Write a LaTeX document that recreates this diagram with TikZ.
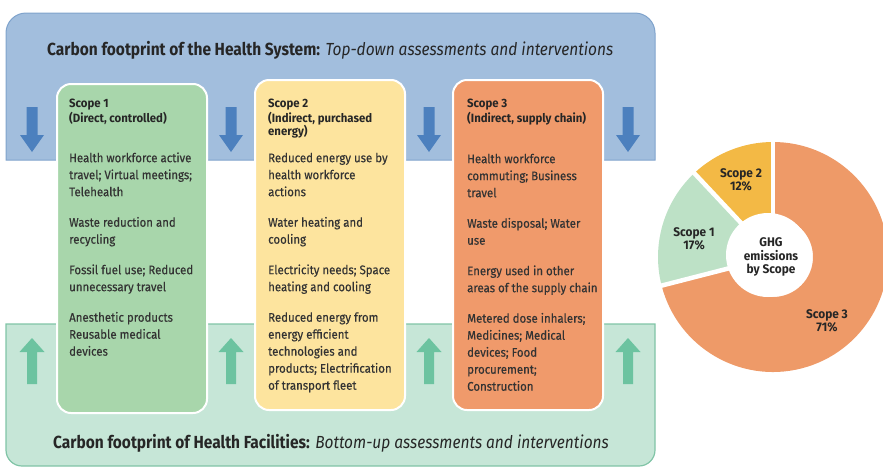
\documentclass[tikz,border=0pt]{standalone}
\usepackage{fontspec}
\setmainfont{Fira Sans}[FakeStretch=0.88]
\newfontfamily\bodyfont{Fira Sans}[FakeStretch=0.915, FakeBold=0.35]
\newfontfamily\headfont{Fira Sans}[FakeStretch=0.95]
\newfontfamily\titlefont{Fira Sans}[FakeStretch=0.885]
\definecolor{bluebg}{HTML}{A2BEDD}
\definecolor{blueedge}{HTML}{7FA3CC}
\definecolor{bluearrow}{HTML}{4C80BE}
\definecolor{greenbg}{HTML}{C6E6D7}
\definecolor{greenedge}{HTML}{80C4A6}
\definecolor{greenarrow}{HTML}{6CC3A0}
\definecolor{sone}{HTML}{A8D6AB}
\definecolor{stwo}{HTML}{FDE49E}
\definecolor{sthree}{HTML}{F09A6B}
\definecolor{pone}{HTML}{BDE1C6}
\definecolor{ptwo}{HTML}{F3B945}
\definecolor{pthree}{HTML}{EE9A68}
\definecolor{txt}{HTML}{262626}
\definecolor{bodytxt}{HTML}{333333}
\tikzset{
  scopebox/.style={draw=white, line width=2pt, rounded corners=14pt},
  headtext/.style={font=\headfont\bfseries\fontsize{12}{13}\selectfont, text=txt, align=left, inner sep=0pt, anchor=north west},
  bodytext/.style={font=\bodyfont\fontsize{12.5}{17}\selectfont, text=bodytxt, align=left, inner sep=0pt, anchor=north west},
  titletext/.style={font=\titlefont\fontsize{17.5}{20}\selectfont, text=txt, inner sep=0pt, anchor=base west},
  pielabel/.style={font=\headfont\bfseries\fontsize{12.5}{13.5}\selectfont, text=txt, align=center, inner sep=0pt},
  downarrow/.pic={\fill[bluearrow] (-5.5,-22.5) -- (5.5,-22.5) -- (5.5,5.5) -- (12,5.5) -- (0,22.5) -- (-12,5.5) -- (-5.5,5.5) -- cycle;},
  uparrow/.pic={\fill[greenarrow] (-5,23) -- (5,23) -- (5,-9) -- (12.5,-9) -- (0,-23) -- (-12.5,-9) -- (-5,-9) -- cycle;}
}
\begin{document}
\begin{tikzpicture}[x=1pt,y=-1pt]
\useasboundingbox (0,0) rectangle (883,469);
% top band
\path[fill=bluebg, draw=blueedge, line width=1pt] (6,160) [rounded corners=20pt] -- (6,13) -- (655,13) [sharp corners] -- (655,160) -- cycle;
% bottom band
\path[fill=greenbg, draw=greenedge, line width=1.2pt] (6,324) [rounded corners=16pt] -- (6,466) -- (655,466) [sharp corners] -- (655,324) -- cycle;
% arrows
\foreach \ax in {32,231,429,628} {
  \pic at (\ax,129.5) {downarrow};
  \pic at (\ax,361) {uparrow};
}
% scope boxes
\path[scopebox, fill=sone] (57,84) rectangle (207,413);
\path[scopebox, fill=stwo] (255,80) rectangle (405,410);
\path[scopebox, fill=sthree] (453,80) rectangle (603,410);
% titles
\node[titletext] (ttop) at (47,55) {\textbf{Carbon footprint of the Health System:} \textit{Top-down assessments and interventions}};
\node[titletext] (tbot) at (53,448) {\textbf{Carbon footprint of Health Facilities:} \textit{Bottom-up assessments and interventions}};
% scope 1
\node[headtext] (h1) at (69,97.9) {\strut Scope 1\\(Direct, controlled)};
\node[bodytext] (b1) at (69,150.1) {\strut Health workforce active\\travel; Virtual meetings;\\Telehealth\\[13.5pt]
Waste reduction and\\recycling\\[13.5pt]
Fossil fuel use; Reduced\\unnecessary travel\\[13.5pt]
Anesthetic products\\Reusable medical\\devices};
% scope 2
\node[headtext] (h2) at (268,97.9) {\strut Scope 2\\(Indirect, purchased\\energy)};
\node[bodytext] (b2) at (268,150.1) {\strut Reduced energy use by\\health workforce\\actions\\[13.5pt]
Water heating and\\cooling\\[13.5pt]
Electricity needs; Space\\heating and cooling\\[13.5pt]
Reduced energy from\\energy efficient\\technologies and\\products; Electrification\\of transport fleet};
% scope 3
\node[headtext] (h3) at (467,97.9) {\strut Scope 3\\(Indirect, supply chain)};
\node[bodytext] (b3) at (467,151.1) {\strut Health workforce\\commuting; Business\\travel\\[13.5pt]
Waste disposal; Water\\use\\[13.5pt]
Energy used in other\\areas of the supply chain\\[13.5pt]
Metered dose inhalers;\\Medicines; Medical\\devices; Food\\procurement;\\Construction};
% donut
\begin{scope}[shift={(773,257)}, yscale=-1]
  \fill[pthree] (-165.6:40) -- (-165.6:115) arc[start angle=-165.6, end angle=90, radius=115] -- (90:40) arc[start angle=90, end angle=-165.6, radius=40] -- cycle;
  \fill[pone] (133.2:40) -- (133.2:115) arc[start angle=133.2, end angle=194.4, radius=115] -- (194.4:40) arc[start angle=194.4, end angle=133.2, radius=40] -- cycle;
  \fill[ptwo] (90:40) -- (90:115) arc[start angle=90, end angle=133.2, radius=115] -- (133.2:40) arc[start angle=133.2, end angle=90, radius=40] -- cycle;
  \draw[white, line width=4.5pt] (0,0) -- (90:118);
  \draw[white, line width=4.5pt] (0,0) -- (133.2:118);
  \draw[white, line width=4.5pt] (0,0) -- (194.4:118);
\end{scope}
\fill[white] (768,255) circle[radius=42];
\node[pielabel] (l2) at (741,180) {Scope 2\\12\%};
\node[pielabel] (l1) at (694,239) {Scope 1\\17\%};
\node[pielabel] (lc) at (771,257) {GHG\\emissions\\by Scope};
\node[pielabel] (l3) at (827,321) {Scope 3\\71\%};
\end{tikzpicture}
\end{document}
